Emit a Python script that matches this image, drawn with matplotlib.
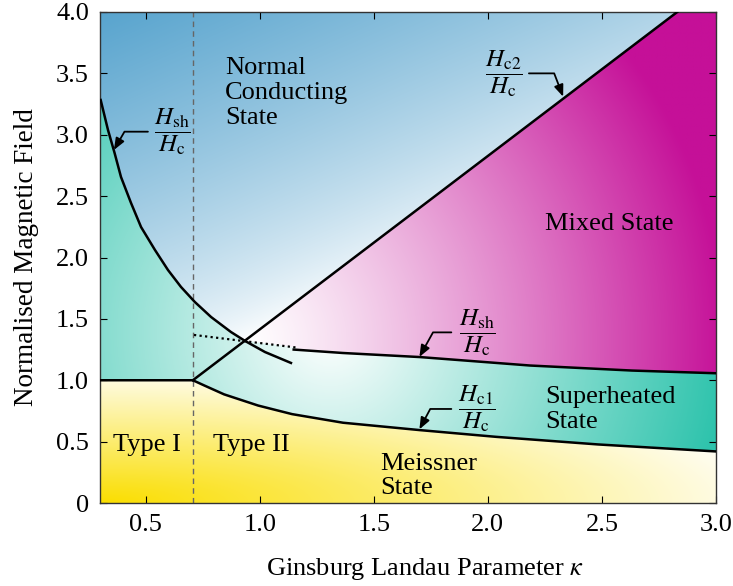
import numpy as np
import matplotlib
matplotlib.use('Agg')
import matplotlib.pyplot as plt

plt.rcParams['font.family'] = ['Liberation Serif', 'DejaVu Serif']
plt.rcParams['mathtext.fontset'] = 'stix'

# phase boundaries
k_sep = 0.707  # type I / type II separation (1/sqrt(2))

hc1_k = [0.30, 0.707, 0.76, 0.844, 0.993, 1.142, 1.365, 1.701, 2.036, 2.483, 3.00]
hc1_v = [1.00, 1.00, 0.955, 0.885, 0.794, 0.724, 0.654, 0.594, 0.539, 0.477, 0.42]

hc2_k = [0.707, 2.83]
hc2_v = [1.00, 4.00]

hsh_low_k = [0.303, 0.335, 0.364, 0.392, 0.436, 0.480, 0.541, 0.598, 0.655,
             0.716, 0.787, 0.874, 0.936, 1.023, 1.137]
hsh_low_v = [3.283, 3.039, 2.851, 2.656, 2.444, 2.248, 2.061, 1.898, 1.760,
             1.637, 1.515, 1.393, 1.320, 1.230, 1.141]

hsh_dot_k = [0.712, 1.168]
hsh_dot_v = [1.369, 1.265]

hsh_high_k = [1.149, 1.365, 1.701, 2.185, 2.632, 3.00]
hsh_high_v = [1.250, 1.222, 1.189, 1.120, 1.079, 1.057]

x_ticks = [0.5, 1.0, 1.5, 2.0, 2.5, 3.0]
y_ticks = [0, 0.5, 1.0, 1.5, 2.0, 2.5, 3.0, 3.5, 4.0]
y_labels = ['0', '0.5', '1.0', '1.5', '2.0', '2.5', '3.0', '3.5', '4.0']

# region labels: text, kappa, field, alignment
region_labels = [
    ('Normal\nConducting\nState', 0.848, 3.34, 'left'),
    ('Mixed State', 2.53, 2.27, 'center'),
    ('Superheated\nState', 2.25, 0.76, 'left'),
    ('Meissner\nState', 1.53, 0.22, 'left'),
    ('Type I', 0.506, 0.47, 'center'),
    ('Type II', 0.962, 0.47, 'center'),
]

# curve labels: text, text pos, arrow start, arrow tip, angleB
curve_labels = [
    (r'$\dfrac{H_\mathrm{sh}}{H_\mathrm{c}}$', (0.616, 3.025), (0.51, 3.025), (0.361, 2.876), 60),
    (r'$\dfrac{H_\mathrm{c2}}{H_\mathrm{c}}$', (2.07, 3.50), (2.18, 3.50), (2.33, 3.31), 111),
    (r'$\dfrac{H_\mathrm{sh}}{H_\mathrm{c}}$', (1.953, 1.39), (1.84, 1.39), (1.70, 1.19), 61),
    (r'$\dfrac{H_\mathrm{c1}}{H_\mathrm{c}}$', (1.953, 0.766), (1.84, 0.766), (1.70, 0.60), 62),
]

x_min, x_max = 0.3, 3.0
y_min, y_max = 0.0, 4.0

fig = plt.figure(figsize=(7.33, 5.86), dpi=100)
ax = fig.add_axes([100 / 733, 83 / 586, 616 / 733, 491 / 586])

# background colour field
nx, ny = 700, 560
kk, yy = np.meshgrid(np.linspace(x_min, x_max, nx), np.linspace(y_min, y_max, ny))
W, H = 616.0, 491.0
px = (kk - x_min) / (x_max - x_min) * W
py = (yy - y_min) / (y_max - y_min) * H

hc1 = np.interp(kk, hc1_k, hc1_v)
hc2 = np.interp(kk, hc2_k, hc2_v, left=-1, right=10)
hsh_lo = np.interp(kk, hsh_low_k, hsh_low_v)
hsh_hi = np.where(kk < 1.16, np.interp(kk, hsh_dot_k, hsh_dot_v),
                  np.interp(kk, hsh_high_k, hsh_high_v))

# crossing of hsh (low kappa) and hc2
kc = np.linspace(0.707, 1.137, 500)
diff = np.interp(kc, hsh_low_k, hsh_low_v) - np.interp(kc, hc2_k, hc2_v)
k_cross = kc[np.argmin(np.abs(diff))]
y_cross = np.interp(k_cross, hc2_k, hc2_v)

upper = np.where(kk < k_cross, hsh_lo, hc2)
normal = yy > upper
mixed = (kk >= k_cross) & (yy <= hc2) & (yy > hsh_hi)
meissner = yy < hc1
superheated = ~(normal | mixed | meissner)


def tint(col, t):
    col = np.array(col) / 255.0
    return 1 - t[..., None] * (1 - col)


cx = (k_cross - x_min) / (x_max - x_min) * W
cy = (y_cross - y_min) / (y_max - y_min) * H

# blue: from crossing point towards top-left corner
dx, dy = 0 - cx, H - cy
t_blue = np.clip(((px - cx) * dx + (py - cy) * dy) / (dx * dx + dy * dy), 0, 1) ** 0.75
# magenta: radial from crossing point
t_mag = np.clip(np.hypot(px - cx, py - cy) / 480, 0, 1) ** 1.2
# teal: radial from the middle of the band
t_teal = np.clip(np.hypot(px - 230, py - 170) / 400, 0, 1)
# yellow: elliptical from bottom-left corner
t_yel = np.clip(1 - np.hypot(px / 700, py / 140), 0, 1)

img = np.ones((ny, nx, 3))
img[normal] = tint((88, 164, 206), t_blue)[normal]
img[mixed] = tint((197, 16, 152), t_mag)[mixed]
img[superheated] = tint((45, 195, 172), t_teal)[superheated]
img[meissner] = tint((250, 222, 0), t_yel)[meissner]

ax.imshow(img, extent=[x_min, x_max, y_min, y_max], origin='lower',
          aspect='auto', interpolation='bilinear', zorder=0)

lw = 1.8
ax.plot(hc1_k, hc1_v, color='k', lw=lw, zorder=3)
ax.plot(hc2_k, hc2_v, color='k', lw=lw, zorder=3)
ax.plot(hsh_low_k, hsh_low_v, color='k', lw=lw, zorder=3)
ax.plot(hsh_high_k, hsh_high_v, color='k', lw=lw, zorder=3)
ax.plot(hsh_dot_k, hsh_dot_v, color='k', lw=1.6, ls=(0, (1, 1.5)), zorder=3)
ax.axvline(k_sep, color='0.4', lw=1.0, ls=(0, (4, 3)), zorder=2)

for txt, xk, yv, ha in region_labels:
    ax.text(xk, yv, txt, fontsize=19, ha=ha, va='center', linespacing=1.15, zorder=4)

for txt, tpos, start, tip, angB in curve_labels:
    ax.text(tpos[0], tpos[1], txt, fontsize=18, ha='center', va='center', zorder=4)
    ax.annotate('', xy=tip, xytext=start,
                arrowprops=dict(arrowstyle='-|>,head_length=0.7,head_width=0.28',
                                connectionstyle='angle,angleA=0,angleB=%d,rad=0' % angB,
                                shrinkA=0, shrinkB=0, color='k', lw=1.3),
                zorder=4)

ax.set_xlim(x_min, x_max)
ax.set_ylim(y_min, y_max)
ax.set_xticks(x_ticks)
ax.set_xticklabels(['%.1f' % v for v in x_ticks])
ax.set_yticks(y_ticks)
ax.set_yticklabels(y_labels)
ax.tick_params(direction='in', top=True, right=True, length=5, labelsize=19, pad=8)
ax.set_xlabel(r'Ginsburg Landau Parameter $\kappa$', fontsize=19, labelpad=14)
ax.xaxis.label.set_x(0.527)
ax.set_ylabel('Normalised Magnetic Field', fontsize=19.5, labelpad=12)
for s in ax.spines.values():
    s.set_linewidth(1.0)
    s.set_color('0.2')

fig.savefig('out.png', dpi=100)
